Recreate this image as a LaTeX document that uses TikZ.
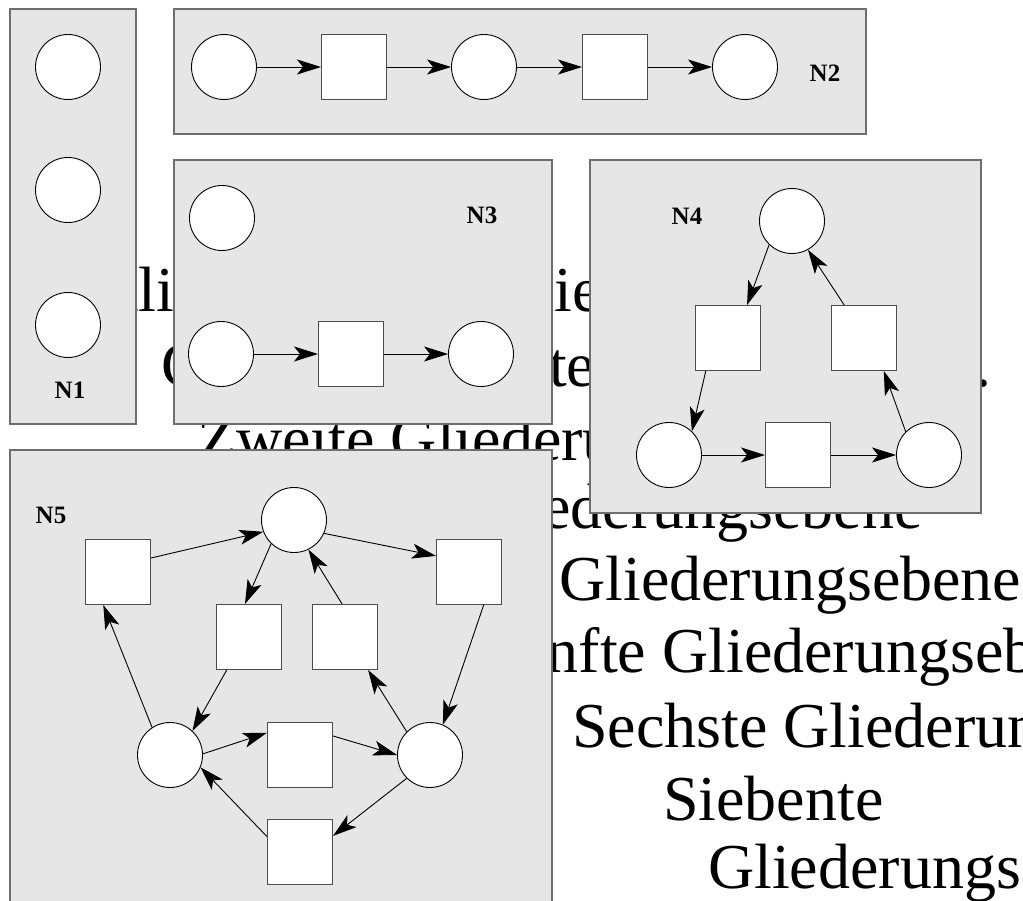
\documentclass[tikz,border=0pt]{standalone}
\usepackage{fontspec}
\setmainfont{Liberation Serif}
\usetikzlibrary{arrows.meta}
\definecolor{panelfill}{RGB}{230,230,230}
\definecolor{panelline}{RGB}{110,110,110}
\definecolor{transline}{RGB}{77,77,77}
\tikzset{
 panel/.style={draw=panelline, fill=panelfill, line width=1.3pt},
 place/.style={circle, draw=black, fill=white, line width=0.9pt, minimum size=65pt, inner sep=0pt},
 trans/.style={rectangle, draw=transline, fill=white, line width=1pt, minimum size=65pt, inner sep=0pt},
 arc/.style={-{Stealth[length=24pt,width=15pt,inset=6pt]}, line width=0.9pt},
 netlabel/.style={font=\fontsize{25}{25}\selectfont\bfseries, inner sep=0pt},
 bgtext/.style={font=\fontsize{64}{64}\selectfont, anchor=base west, inner sep=0pt},
}
\begin{document}
\begin{tikzpicture}[x=1pt,y=-1pt]
\useasboundingbox (0,0) rectangle (1023,901);
\clip (0,0) rectangle (1023,901);
% background outline text
\node[bgtext] (t1) at (92,312) {Klicken Sie, um die Formate des};
\node[bgtext, font=\fontsize{63.5}{64}\selectfont] (t2) at (161,386) {Gliederungstextes zu bearbeiten.};
\node[bgtext] (t3) at (197,460) {Zweite Gliederungsebene};
\node[bgtext] (t4) at (295,528) {Dritte Gliederungsebene};
\node[bgtext] (t5) at (387,600) {Vierte Gliederungsebene};
\node[bgtext] (t6) at (479,672) {Fünfte Gliederungsebene};
\node[bgtext] (t7) at (572,747) {Sechste Gliederungsebene};
\node[bgtext] (t8) at (663,820) {Siebente};
\node[bgtext] (t9) at (708,888) {Gliederungsebene};
% panels
\draw[panel] (10,9) rectangle (136,424);
\draw[panel] (174,9) rectangle (866,134);
\draw[panel] (174,160) rectangle (552,424);
\draw[panel] (590,160) rectangle (981,513);
\draw[panel] (10,450) rectangle (552,920);
% N1
\node[place] (a1) at (68,67) {};
\node[place] (a2) at (68,190) {};
\node[place] (a3) at (68,325) {};
\node[netlabel] (l1) at (70,390) {N1};
% N2
\node[place] (b1) at (224,67) {};
\node[trans] (b2) at (354,67) {};
\node[place] (b3) at (484,67) {};
\node[trans] (b4) at (615,67) {};
\node[place] (b5) at (745,67) {};
\node[netlabel] (l2) at (825,73) {N2};
\draw[arc] (b1.east) -- (b2.west);
\draw[arc] (b2.east) -- (b3.west);
\draw[arc] (b3.east) -- (b4.west);
\draw[arc] (b4.east) -- (b5.west);
% N3
\node[place] (c1) at (222,218) {};
\node[place] (c2) at (221,354) {};
\node[trans] (c3) at (351,354) {};
\node[place] (c4) at (481,354) {};
\node[netlabel] (l3) at (482,215) {N3};
\draw[arc] (c2.east) -- (c3.west);
\draw[arc] (c3.east) -- (c4.west);
% N4
\node[place] (d1) at (792,221) {};
\node[trans] (d2) at (728,338) {};
\node[trans] (d3) at (864,338) {};
\node[place] (d4) at (669,455) {};
\node[trans] (d5) at (798,455) {};
\node[place] (d6) at (929,455) {};
\node[netlabel] (l4) at (687,216) {N4};
\draw[arc] (d1.226) -- (d2.60);
\draw[arc] (d2.236) -- (d4.46);
\draw[arc] (d4.east) -- (d5.west);
\draw[arc] (d5.east) -- (d6.west);
\draw[arc] (d6.135) -- (d3.301);
\draw[arc] (d3.121) -- (d1.299);
% N5
\node[place] (e1) at (294,520) {};
\node[trans] (e2) at (118,572) {};
\node[trans] (e3) at (469,572) {};
\node[trans] (e4) at (249,637) {};
\node[trans] (e5) at (345,637) {};
\node[place] (e6) at (170,755) {};
\node[trans] (e7) at (300,755) {};
\node[place] (e8) at (430,755) {};
\node[trans] (e9) at (300,852) {};
\node[netlabel] (l5) at (51,515) {N5};
\draw[arc] (e2.23) -- (e1.201);
\draw[arc] (e1.226) -- (e4.97);
\draw[arc] (e5.95) -- (e1.296);
\draw[arc] (e1.336) -- (e3.154);
\draw[arc] (e3.294) -- (e8.67);
\draw[arc] (e6.123) -- (e2.246);
\draw[arc] (e4.236) -- (e6.47);
\draw[arc] (e6.2) -- (e7.146);
\draw[arc] (e7.30) -- (e8.180);
\draw[arc] (e8.135) -- (e5.305);
\draw[arc] (e8.225) -- (e9.26);
\draw[arc] (e9.155) -- (e6.338);
\end{tikzpicture}
\end{document}
